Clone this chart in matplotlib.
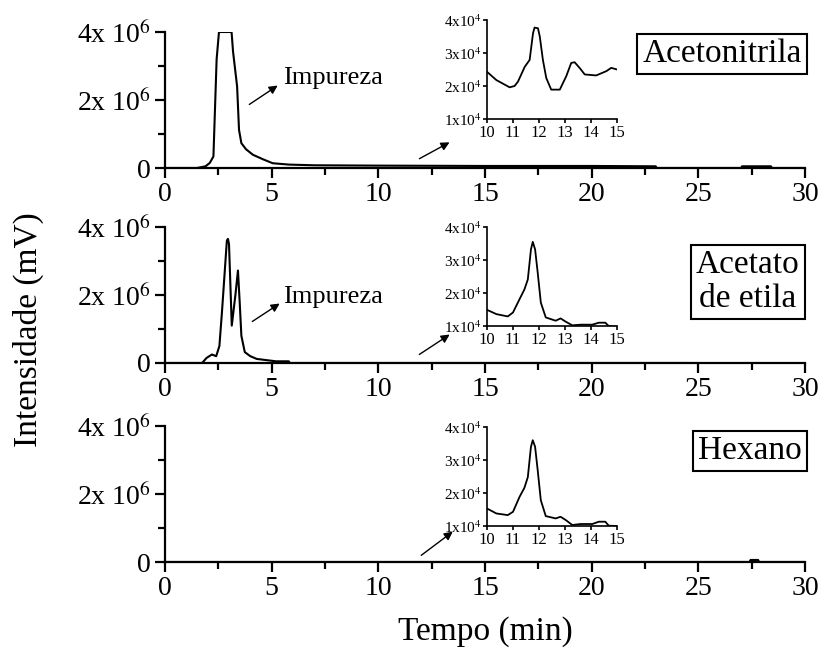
import matplotlib
matplotlib.use('Agg')
import matplotlib.pyplot as plt
from matplotlib.ticker import MultipleLocator

plt.rcParams['font.family'] = ['Liberation Serif', 'DejaVu Serif']
plt.rcParams['mathtext.fontset'] = 'stix'

# main chromatograms (time in min, intensity in units of 1e6)
acn_t = [0, 1.5, 1.9, 2.1, 2.27, 2.42, 2.53, 3.12, 3.19, 3.38, 3.47, 3.58, 3.8, 4.12,
         4.58, 5.05, 5.82, 7, 10, 15, 20, 23.0, 23.05, 27.0, 27.05, 28.4, 28.45, 30]
acn_y = [0, 0, 0.05, 0.15, 0.34, 3.2, 4.0, 4.0, 3.42, 2.4, 1.12, 0.73, 0.55, 0.39,
         0.26, 0.14, 0.1, 0.08, 0.07, 0.06, 0.06, 0.05, 0, 0, 0.05, 0.05, 0, 0]

ace_t = [0, 1.74, 1.95, 2.2, 2.4, 2.55, 2.67, 2.9, 2.95, 3.0, 3.13, 3.3, 3.42, 3.5,
         3.58, 3.74, 4.0, 4.3, 5.2, 5.8, 5.85, 24.6]
ace_y = [0, 0, 0.15, 0.25, 0.2, 0.5, 1.5, 3.6, 3.65, 3.5, 1.1, 2.0, 2.72, 1.8,
         0.8, 0.32, 0.2, 0.12, 0.05, 0.05, 0, 0]

hex_t = [0, 27.4, 27.45, 27.8, 27.85, 30]
hex_y = [0, 0, 0.06, 0.06, 0, 0]

# insets 10-15 min (intensity in units of 1e4)
acn_it = [10.0, 10.36, 10.87, 11.06, 11.19, 11.45, 11.64, 11.77, 11.83, 11.96, 12.03, 12.15,
          12.28, 12.47, 12.8, 13.05, 13.24, 13.37, 13.56, 13.76, 14.2, 14.59, 14.78, 15.0]
acn_iy = [2.43, 2.18, 1.96, 2.0, 2.13, 2.58, 2.79, 3.6, 3.77, 3.75, 3.5, 2.79,
          2.24, 1.89, 1.89, 2.3, 2.7, 2.72, 2.55, 2.35, 2.32, 2.45, 2.55, 2.5]

ace_it = [10.0, 10.36, 10.8, 11.0, 11.25, 11.44, 11.57, 11.69, 11.76, 11.85, 11.95, 12.07,
          12.26, 12.64, 12.83, 13.03, 13.28, 13.6, 14.05, 14.3, 14.55, 14.68, 15.0]
ace_iy = [1.49, 1.36, 1.29, 1.41, 1.81, 2.11, 2.41, 3.32, 3.55, 3.32, 2.62, 1.71,
          1.26, 1.16, 1.23, 1.13, 1.02, 1.04, 1.04, 1.1, 1.1, 1.0, 0.98]

hex_it = [10.0, 10.36, 10.8, 11.0, 11.25, 11.44, 11.57, 11.69, 11.76, 11.85, 11.95, 12.07,
          12.26, 12.64, 12.83, 13.03, 13.28, 13.6, 14.05, 14.3, 14.55, 14.68, 15.0]
hex_iy = [1.53, 1.38, 1.33, 1.43, 1.88, 2.16, 2.48, 3.4, 3.6, 3.4, 2.69, 1.78,
          1.30, 1.23, 1.28, 1.18, 1.03, 1.06, 1.06, 1.13, 1.13, 1.01, 1.0]

names = ['Acetonitrila', 'Acetato\nde etila', 'Hexano']

W, H = 825, 651
fig = plt.figure(figsize=(W / 100, H / 100), dpi=100)

def fx(px):
    return px / W

def fy(py):
    return 1 - py / H

main_tops = [32, 227, 426]
inset_tops = [20, 227, 427]
box_centers = [(722, 54), (748, 282), (750, 451)]
series = [(acn_t, acn_y, acn_it, acn_iy), (ace_t, ace_y, ace_it, ace_iy),
          (hex_t, hex_y, hex_it, hex_iy)]
arrow_pts = [((417, 160), (452, 141)), ((417, 356), (452, 333)), ((419, 557), (455, 530))]

for i in range(3):
    t, y, it, iy = series[i]
    top = main_tops[i]
    ax = fig.add_axes([fx(165), fy(top + 136), fx(640), 136 / H])
    ax.plot(t, [v * 1e6 for v in y], color='black', lw=1.5)
    ax.set_xlim(0, 30)
    ax.set_ylim(0, 4e6)
    ax.spines['top'].set_visible(False)
    ax.spines['right'].set_visible(False)
    for s in ['left', 'bottom']:
        ax.spines[s].set_linewidth(1.6)
    ax.xaxis.set_major_locator(MultipleLocator(5))
    ax.xaxis.set_minor_locator(MultipleLocator(2.5))
    ax.set_yticks([0, 2e6, 4e6])
    ax.set_yticklabels(['0', r'2x 10$^{6}$', r'4x 10$^{6}$'])
    ax.yaxis.set_minor_locator(MultipleLocator(1e6))
    ax.tick_params(which='major', direction='out', length=7, width=1.6, labelsize=20, pad=3)
    ax.tick_params(which='minor', direction='out', length=5, width=1.6)
    ax.patch.set_alpha(0)

    ins = fig.add_axes([fx(487), fy(inset_tops[i] + 99), fx(130), 99 / H])
    ins.plot(it, iy, color='black', lw=1.3)
    ins.set_xlim(10, 15)
    ins.set_ylim(1, 4)
    ins.spines['top'].set_visible(False)
    ins.spines['right'].set_visible(False)
    for s in ['left', 'bottom']:
        ins.spines[s].set_linewidth(1.2)
    ins.set_xticks([10, 11, 12, 13, 14, 15])
    ins.set_yticks([1, 2, 3, 4])
    ins.set_yticklabels([r'1x10$^{4}$', r'2x10$^{4}$', r'3x10$^{4}$', r'4x10$^{4}$'])
    ins.tick_params(axis='y', direction='out', length=3, width=1.2, labelsize=11, pad=1)
    ins.tick_params(axis='x', direction='out', length=3, width=1.2, labelsize=12, pad=1)

    cx, cy = box_centers[i]
    fig.text(fx(cx), fy(cy), names[i], ha='center', va='center', fontsize=24,
             linespacing=1.15,
             bbox=dict(boxstyle='square,pad=0.15', fc='white', ec='black', lw=1.5))

    # arrow towards the inset
    (x0, y0), (x1, y1) = arrow_pts[i]
    fig.add_artist(matplotlib.patches.FancyArrowPatch(
        (fx(x0), fy(y0)), (fx(x1), fy(y1)), transform=fig.transFigure,
        arrowstyle='-|>,head_length=5,head_width=2.5', color='black', lw=1))

# impureza labels
for (x0, y0), (x1, y1), (tx, ty) in [((247, 106), (280, 84), (283, 78)),
                                     ((250, 323), (282, 302), (283, 297))]:
    fig.add_artist(matplotlib.patches.FancyArrowPatch(
        (fx(x0), fy(y0)), (fx(x1), fy(y1)), transform=fig.transFigure,
        arrowstyle='-|>,head_length=5,head_width=2.5', color='black', lw=1))
    fig.text(fx(tx), fy(ty), 'Impureza', ha='left', va='center', fontsize=19)

fig.text(fx(485), fy(632), 'Tempo (min)', ha='center', va='center', fontsize=24)
fig.text(fx(28), fy(330), 'Intensidade (mV)', ha='center', va='center', fontsize=24,
         rotation=90)

fig.savefig('out.png', dpi=100)
